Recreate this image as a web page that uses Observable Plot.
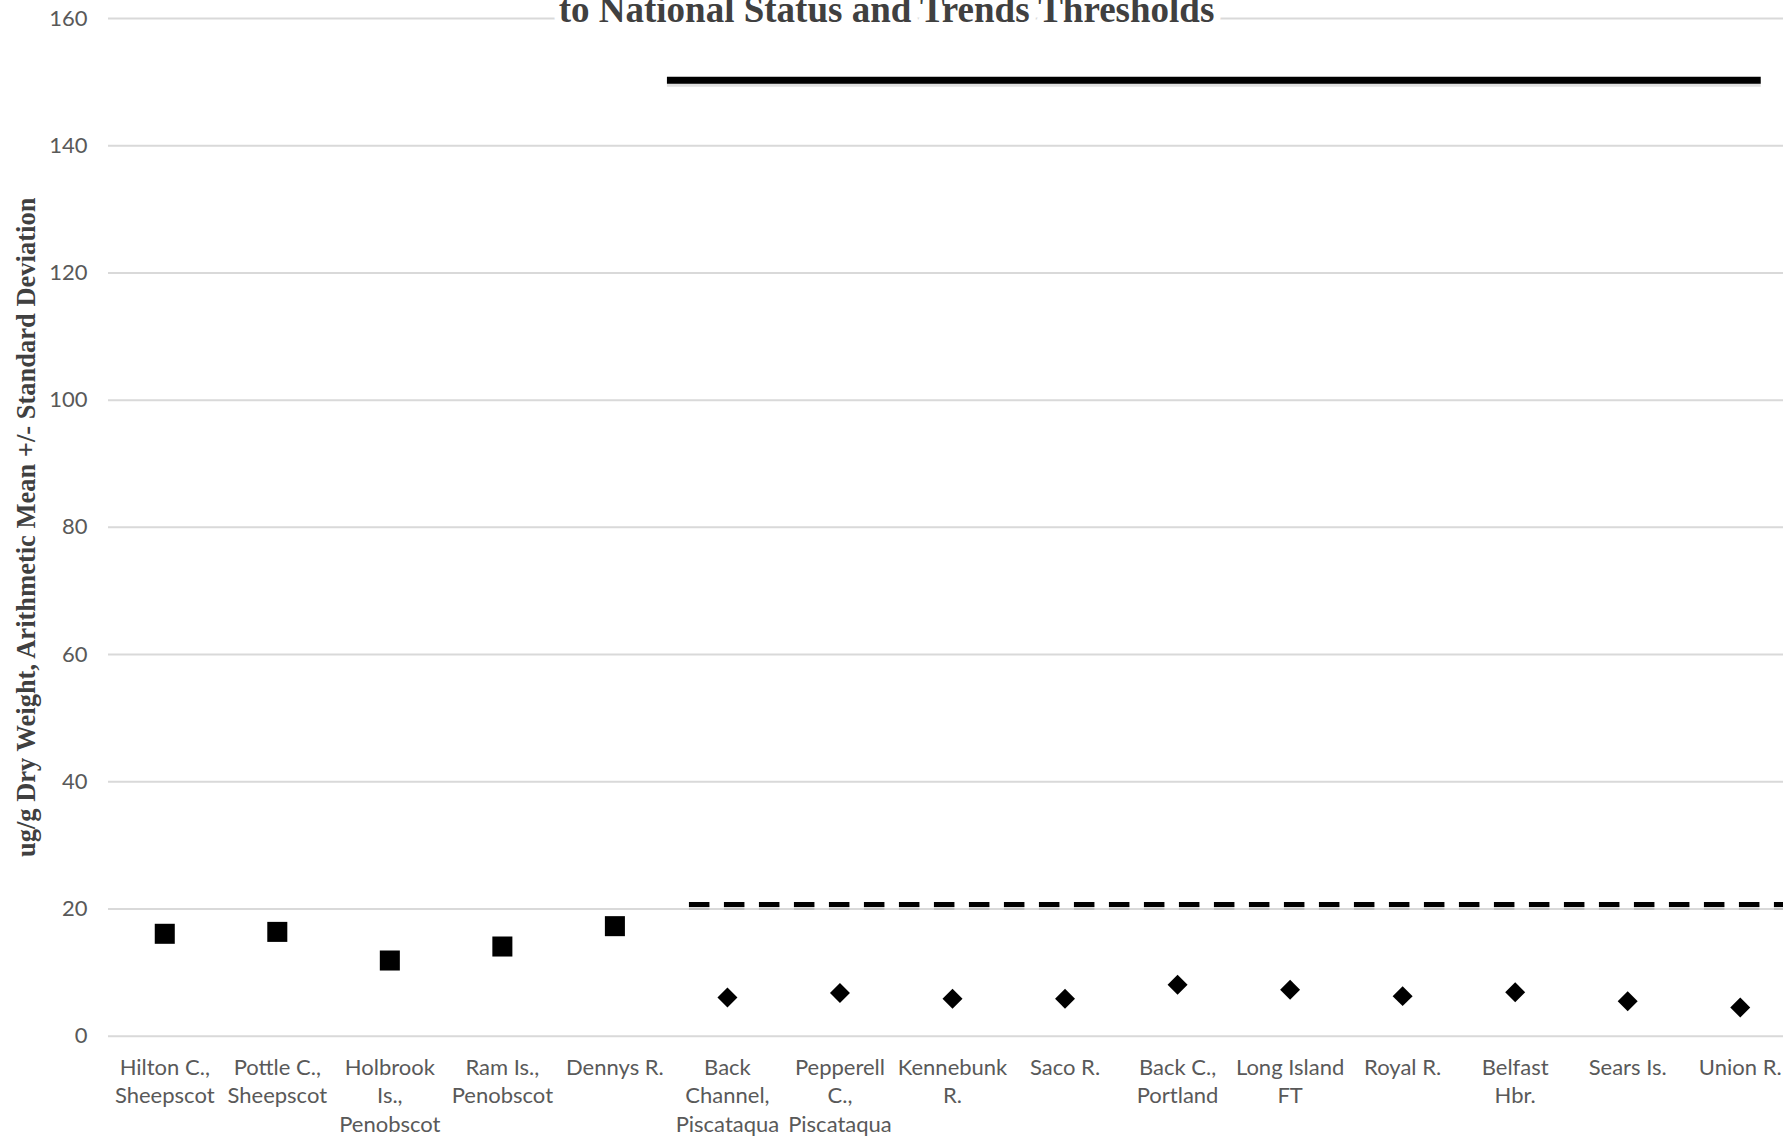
<!DOCTYPE html>
<html>
<head>
<meta charset="utf-8">
<script src="https://cdn.jsdelivr.net/npm/d3@7"></script>
<script src="https://cdn.jsdelivr.net/npm/@observablehq/plot@0.6"></script>
<style>
  html, body { margin: 0; padding: 0; background: #fff; overflow: hidden; }
  #chart svg { display: block; overflow: hidden; }
</style>
</head>
<body>
<div id="chart"></div>
<script>
// ---- Data ----
const sites = [
  "Hilton C., Sheepscot", "Pottle C., Sheepscot", "Holbrook Is., Penobscot",
  "Ram Is., Penobscot", "Dennys R.", "Back Channel, Piscataqua",
  "Pepperell C., Piscataqua", "Kennebunk R.", "Saco R.", "Back C., Portland",
  "Long Island FT", "Royal R.", "Belfast Hbr.", "Sears Is.", "Union R."
];
const tickLabels = [
  "Hilton C.,\nSheepscot", "Pottle C.,\nSheepscot", "Holbrook\nIs.,\nPenobscot",
  "Ram Is.,\nPenobscot", "Dennys R.", "Back\nChannel,\nPiscataqua",
  "Pepperell\nC.,\nPiscataqua", "Kennebunk\nR.", "Saco R.", "Back C.,\nPortland",
  "Long Island\nFT", "Royal R.", "Belfast\nHbr.", "Sears Is.", "Union R."
];
const squareSites = ["Hilton C., Sheepscot", "Pottle C., Sheepscot", "Holbrook Is., Penobscot", "Ram Is., Penobscot", "Dennys R."];
const squareValues = [16.1, 16.4, 11.9, 14.1, 17.3];
const diamondSites = ["Back Channel, Piscataqua", "Pepperell C., Piscataqua", "Kennebunk R.", "Saco R.", "Back C., Portland", "Long Island FT", "Royal R.", "Belfast Hbr.", "Sears Is.", "Union R."];
const diamondValues = [6.1, 6.8, 5.9, 5.9, 8.1, 7.3, 6.3, 6.9, 5.5, 4.5];
const highThreshold = [150.3];
const medianThreshold = [20.7];
const thresholdFrom = "Back Channel, Piscataqua";
const thresholdTo = "Union R.";
const yTicks = [0, 20, 40, 60, 80, 100, 120, 140, 160];
const titleText = "to National Status and Trends Thresholds";
const yLabel = "ug/g Dry Weight, Arithmetic Mean +/- Standard Deviation";

const squares = squareSites.map((s, i) => ({site: s, value: squareValues[i]}));
const diamonds = diamondSites.map((s, i) => ({site: s, value: diamondValues[i]}));

const chart = Plot.plot({
  width: 1783,
  height: 1137,
  marginTop: 18,
  marginBottom: 101.3,
  marginLeft: 108,
  marginRight: 0,
  style: {background: "#fff", color: "#595959", fontFamily: "Lato, sans-serif", overflow: "hidden"},
  x: {type: "point", domain: sites, range: [108, 1796], padding: 0.5, round: false},
  y: {domain: [0, 160]},
  marks: [
    Plot.gridY(yTicks, {stroke: "#d9d9d9", strokeOpacity: 1, strokeWidth: 2}),
    Plot.axisY(yTicks, {tickSize: 0, tickPadding: 21, fontSize: 22, label: null}),
    Plot.axisX({tickSize: 0, tickPadding: 18, fontSize: 22, lineHeight: 1.3, label: null,
      tickFormat: d => tickLabels[sites.indexOf(d)]}),
    // shadows
    Plot.ruleY(highThreshold, {x1: () => thresholdFrom, x2: () => thresholdTo, insetLeft: -60, insetRight: -21,
      stroke: "#000", strokeOpacity: 0.12, strokeWidth: 7, dy: 3}),
    Plot.ruleY(medianThreshold, {x1: () => thresholdFrom, x2: () => thresholdTo, insetLeft: -38, insetRight: -60,
      stroke: "#000", strokeOpacity: 0.12, strokeWidth: 5, strokeDasharray: "20.5,14.5", dy: 3}),
    Plot.ruleY(highThreshold, {x1: () => thresholdFrom, x2: () => thresholdTo, insetLeft: -60, insetRight: -21,
      stroke: "#000", strokeWidth: 7}),
    Plot.ruleY(medianThreshold, {x1: () => thresholdFrom, x2: () => thresholdTo, insetLeft: -38, insetRight: -60,
      stroke: "#000", strokeWidth: 5, strokeDasharray: "20.5,14.5"}),
    Plot.dot(squares, {x: "site", y: "value", symbol: "square", r: 11.3, fill: "#000"}),
    Plot.dot(diamonds, {x: "site", y: "value", symbol: "diamond2", r: 9, fill: "#000"}),
    Plot.text([titleText], {text: d => d, frameAnchor: "top", textAnchor: "middle", lineAnchor: "bottom", dx: -59.5, dy: 3,
      fontFamily: "Liberation Serif, serif", fontWeight: "bold", fontSize: 37, fill: "#404040",
      stroke: "#fff", strokeWidth: 14, paintOrder: "stroke", strokeLinejoin: "round"}),
    Plot.text([yLabel], {text: d => d, frameAnchor: "left", textAnchor: "middle", lineAnchor: "middle", rotate: -90, dx: -82,
      fontFamily: "Liberation Serif, serif", fontWeight: "bold", fontSize: 26.5, fill: "#404040"})
  ]
});
document.getElementById("chart").appendChild(chart);
</script>
</body>
</html>
